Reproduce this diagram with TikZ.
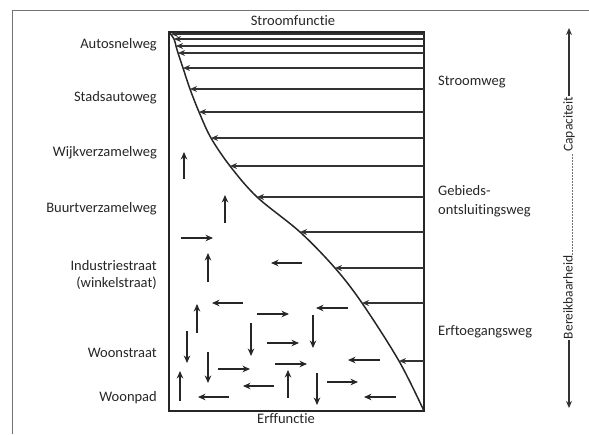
\documentclass[tikz,border=0pt]{standalone}
\usepackage{fontspec}
\setmainfont{Carlito}[Ligatures={NoCommon}]
\usetikzlibrary{arrows.meta}
\begin{document}
\begin{tikzpicture}[x=1pt,y=-1pt,
  ink/.style={draw=black!85},
  flow/.style={-{Stealth[length=7pt,width=6pt]}, line width=1.4pt, draw=black!80},
  loc/.style={-{Stealth[length=7.5pt,width=6.5pt]}, line width=1.7pt, draw=black!85},
  lbl/.style={font=\fontsize{14.5}{17}\selectfont, text=black!85, inner sep=0pt},
  side/.style={font=\fontsize{13.5}{15}\selectfont, text=black!85, inner sep=1pt},
]
\useasboundingbox (0,0) rectangle (589,434);
\draw[black!55, line width=0.8pt] (12,434) -- (12,10) -- (589,10);

% main box
\coordinate (tl) at (169,32);
\coordinate (br) at (424,411);
\draw[ink, line width=1.5pt] (tl) rectangle (br);

% curve points
\foreach \n/\x/\y in {1/171/34, 2/174/39, 3/176/46, 4/178/53, 5/183/68, 6/190/89, 7/199/112,
  8/211/138, 9/230/166, 10/257/197, 11/300/232, 12/335/268, 13/362/303, 14/399/361}{
  \coordinate (c\n) at (\x,\y);
  \coordinate (r\n) at (424,\y);
}
\draw[ink, line width=1.5pt] plot[smooth, tension=0.55] coordinates
  {(169,32) (c2) (c3) (c4) (c5) (c6) (c7) (c8) (c9) (c10) (c11) (c12) (c13) (c14) (br)};

% flow arrows
\foreach \n in {1,...,14}{ \draw[flow] (r\n) -- (c\n); }

% local traffic arrows
\foreach \xa/\ya/\xb/\yb in {
  184/179/184/152, 225/223/225/195, 181/238/213/238, 208/282/208/253,
  302/263/271/263, 243/303/212/303, 197/333/197/304, 257/314/289/314,
  348/308/316/308, 187/331/187/363, 251/323/251/356, 313/315/313/348,
  267/343/299/343, 380/360/348/360, 208/352/208/383, 218/369/250/369,
  275/364/307/364, 274/386/243/386, 288/398/288/370, 317/373/317/405,
  327/382/358/382, 180/401/180/371, 229/397/198/397, 396/397/364/397}{
  \draw[loc] (\xa,\ya) -- (\xb,\yb);
}

% titles
\node[lbl] (sf) at (293,21) {Stroomfunctie};
\node[lbl] (ef) at (286,419) {Erffunctie};

% left labels
\node[lbl, anchor=east] (l1) at (157,45) {Autosnelweg};
\node[lbl, anchor=east] (l2) at (157,98) {Stadsautoweg};
\node[lbl, anchor=east] (l3) at (157,153) {Wijkverzamelweg};
\node[lbl, anchor=east] (l4) at (157,209) {Buurtverzamelweg};
\node[lbl, anchor=east, align=right] (l5) at (157,275) {Industriestraat\\(winkelstraat)};
\node[lbl, anchor=east] (l6) at (157,353) {Woonstraat};
\node[lbl, anchor=east] (l7) at (157,398) {Woonpad};

% right labels
\node[lbl, anchor=west] (s1) at (438,82) {Stroomweg};
\node[lbl, anchor=west, align=left] (s2) at (438,201) {Gebieds-\\[2pt]ontsluitingsweg};
\node[lbl, anchor=west] (s3) at (438,332) {Erftoegangsweg};

% capacity / accessibility axis
\coordinate (vt) at (569,28);
\coordinate (vb) at (569,408);
\node[side, rotate=90] (ax) at (569,218) {Bereikbaarheid\textcolor{black!55}{\makebox[104pt]{\leaders\hbox to 3pt{\hss\rule[-0.5pt]{2pt}{0.7pt}\hss}\hfill}}Capaciteit};
\draw[flow] (ax.east) -- (vt);
\draw[flow] (ax.west) -- (vb);
\end{tikzpicture}
\end{document}
